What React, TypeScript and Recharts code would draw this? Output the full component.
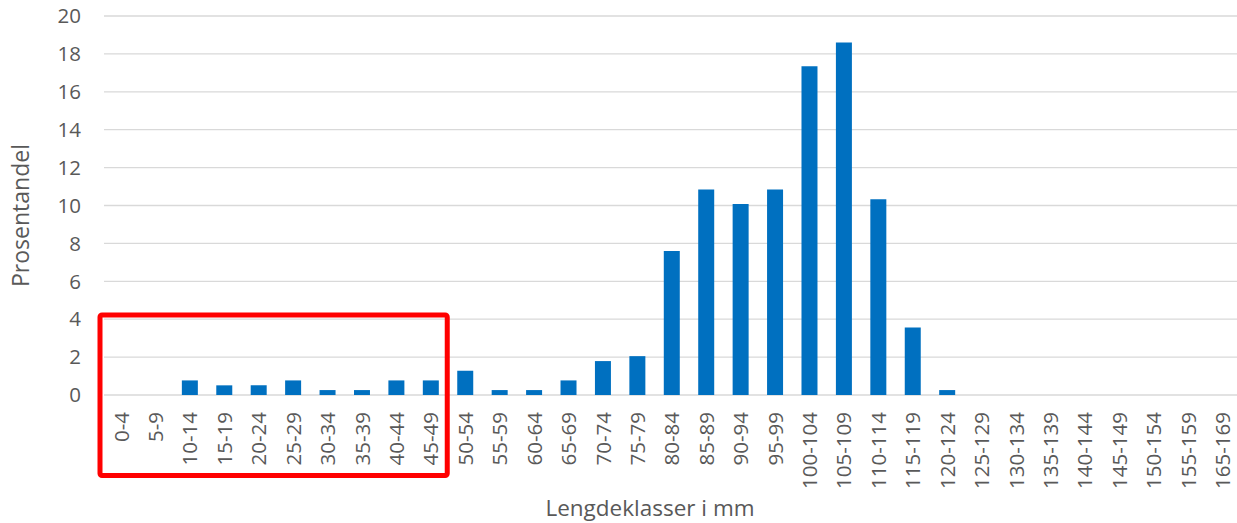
import React from 'react';
import {
  BarChart,
  Bar,
  XAxis,
  YAxis,
  CartesianGrid,
  ReferenceArea,
} from 'recharts';

const lengthClasses = [
  '0-4', '5-9', '10-14', '15-19', '20-24', '25-29', '30-34', '35-39', '40-44', '45-49',
  '50-54', '55-59', '60-64', '65-69', '70-74', '75-79', '80-84', '85-89', '90-94', '95-99',
  '100-104', '105-109', '110-114', '115-119', '120-124', '125-129', '130-134', '135-139',
  '140-144', '145-149', '150-154', '155-159', '165-169',
];

const shares = [
  0, 0, 0.77, 0.51, 0.51, 0.77, 0.26, 0.26, 0.77, 0.77,
  1.28, 0.26, 0.26, 0.77, 1.79, 2.05, 7.6, 10.84, 10.08, 10.84,
  17.35, 18.6, 10.33, 3.56, 0.26, 0, 0, 0,
  0, 0, 0, 0, 0,
];

const yTicks = [0, 2, 4, 6, 8, 10, 12, 14, 16, 18, 20];

// red annotation box around the small fish
const boxFrom = '0-4';
const boxTo = '45-49';
const boxTop = 4.22;
const boxBottom = -4.25;

const data = lengthClasses.map((klasse, i) => ({ klasse, andel: shares[i] }));

const FONT = '"Open Sans", sans-serif';
const TEXT = '#595959';

const XTick = (props: any) => {
  const { x, y, payload } = props;
  return (
    <text
      x={x}
      y={y}
      transform={`rotate(-90, ${x}, ${y})`}
      textAnchor="end"
      dy="0.36em"
      fill={TEXT}
      fontSize={20.5}
      fontFamily={FONT}
    >
      {payload.value}
    </text>
  );
};

// box drawn a little wider on the left, like the hand-drawn frame
const Box = (props: any) => {
  const { x, y, width, height } = props;
  return (
    <rect
      x={x - 4}
      y={y}
      width={width + 3}
      height={height}
      rx={2}
      fill="none"
      stroke="#ff0000"
      strokeWidth={5}
    />
  );
};

export default function App() {
  return (
    <div style={{ position: 'absolute', left: 0, top: 0, background: '#fff' }}>
      <BarChart
        width={1237}
        height={523}
        data={data}
        margin={{ top: 16, right: -3, bottom: 0, left: 0 }}
      >
        <CartesianGrid vertical={false} stroke="#d9d9d9" strokeWidth={1.3} />
        <XAxis
          dataKey="klasse"
          interval={0}
          axisLine={false}
          tickLine={false}
          height={128}
          tickSize={0}
          tickMargin={17}
          tick={<XTick />}
          label={({ viewBox }: any) => (
            <text
              x={viewBox.x + viewBox.width / 2 - 22}
              y={viewBox.y + 121}
              textAnchor="middle"
              fill={TEXT}
              fontSize={22.5}
              fontFamily={FONT}
            >
              Lengdeklasser i mm
            </text>
          )}
        />
        <YAxis
          domain={[0, 20]}
          ticks={yTicks}
          interval={0}
          width={104}
          axisLine={false}
          tickLine={false}
          tickSize={0}
          tickMargin={23}
          tick={{ fill: TEXT, fontSize: 20.5, fontFamily: FONT }}
          label={({ viewBox }: any) => {
            const cx = 21;
            const cy = viewBox.y + viewBox.height / 2 + 10;
            return (
              <text
                x={cx}
                y={cy}
                transform={`rotate(-90, ${cx}, ${cy})`}
                textAnchor="middle"
                dy="0.36em"
                fill={TEXT}
                fontSize={23}
                fontFamily={FONT}
              >
                Prosentandel
              </text>
            );
          }}
        />
        <Bar dataKey="andel" fill="#0070c0" barSize={16} isAnimationActive={false} />
        <ReferenceArea
          x1={boxFrom}
          x2={boxTo}
          y1={boxTop}
          y2={boxBottom}
          ifOverflow="visible"
          shape={<Box />}
        />
      </BarChart>
    </div>
  );
}
